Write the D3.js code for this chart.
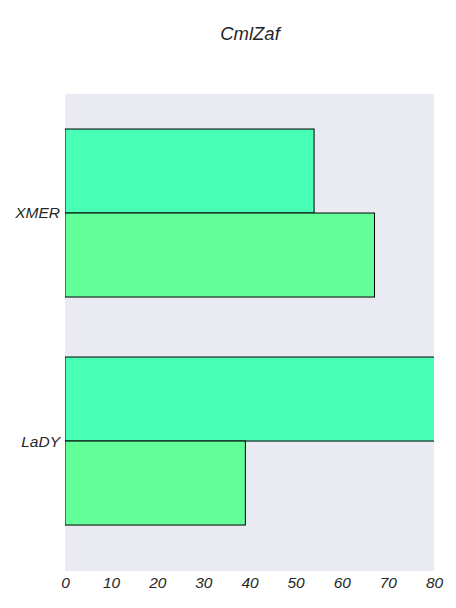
<!DOCTYPE html>
<html><head><meta charset="utf-8">
<script src="https://cdn.jsdelivr.net/npm/d3@7"></script>
<style>body{margin:0;background:#fff}svg text{font-family:"Liberation Sans",Arial,sans-serif;font-style:italic;fill:#262626}</style>
</head><body>
<script>
const title = "CmlZaf";
const categories = ["XMER", "LaDY"];
const seriesA = [54, 82];
const seriesB = [67.1, 39.1];
const colors = ["#47ffb5", "#63ff99"];
const xTicks = [0, 10, 20, 30, 40, 50, 60, 70, 80];

const W = 456, H = 608;
const mLeft = 65, mRight = 434, mTop = 94, mBottom = 571;
const svg = d3.select("body").append("svg").attr("width", W).attr("height", H);

const x = d3.scaleLinear().domain([0, 80]).range([mLeft, mRight]);
const y = d3.scaleLinear().domain([-0.522, 1.57]).range([mTop, mBottom]);
const barH = y(0.3684) - y(0);

svg.append("rect").attr("x", mLeft).attr("y", mTop).attr("width", mRight - mLeft).attr("height", mBottom - mTop).attr("fill", "#eaeaf2");
svg.append("clipPath").attr("id", "clip").append("rect").attr("x", mLeft).attr("y", mTop).attr("width", mRight - mLeft).attr("height", mBottom - mTop);

const g = svg.append("g").attr("clip-path", "url(#clip)");
[seriesA, seriesB].forEach((s, k) => {
  g.selectAll(null).data(s).enter().append("rect")
    .attr("x", x(0))
    .attr("y", (d, i) => y(i) - barH + k * barH)
    .attr("width", d => x(d) - x(0))
    .attr("height", barH)
    .attr("fill", colors[k])
    .attr("stroke", "#000").attr("stroke-width", 1);
});

const xa = svg.append("g").attr("transform", `translate(0,${mBottom})`)
  .call(d3.axisBottom(x).tickValues(xTicks).tickSize(0).tickPadding(6).tickFormat(d3.format("d")));
xa.select(".domain").remove();
xa.selectAll("text").attr("font-size", 15.5);

const ya = svg.append("g").attr("transform", `translate(${mLeft},0)`)
  .call(d3.axisLeft(y).tickValues([0, 1]).tickSize(0).tickPadding(5).tickFormat(i => categories[i]));
ya.select(".domain").remove();
ya.selectAll("text").attr("font-size", 15.5);

svg.append("text").attr("x", 250).attr("y", 40).attr("text-anchor", "middle").attr("font-size", 18.5).text(title);
</script>
</body></html>
